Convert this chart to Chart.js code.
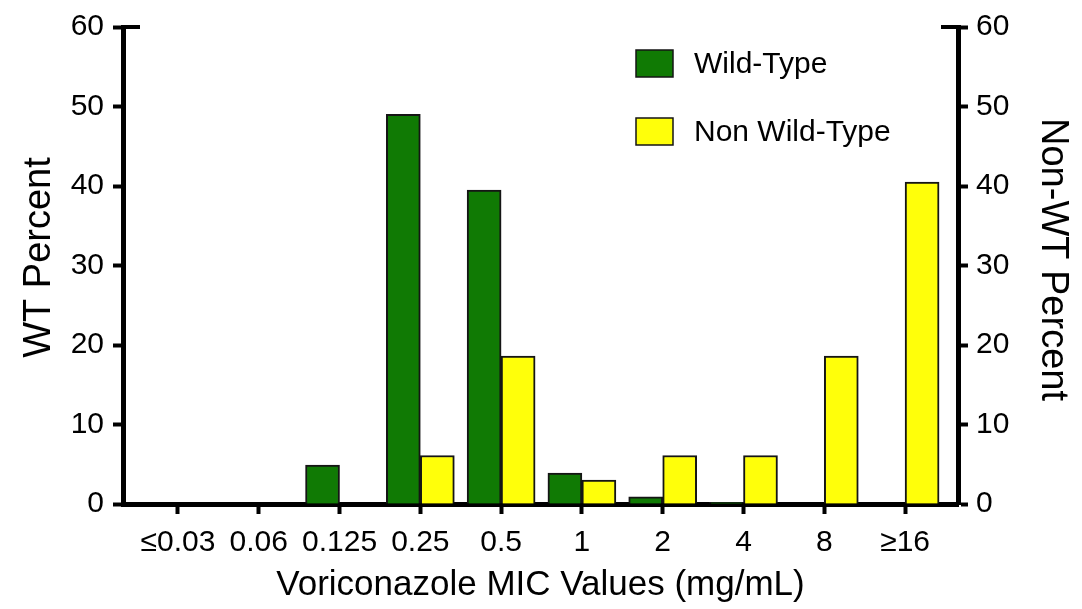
<!DOCTYPE html>
<html>
<head>
<meta charset="utf-8">
<script src="https://cdn.jsdelivr.net/npm/chart.js@4.4.1/dist/chart.umd.min.js"></script>
<style>
  html, body { margin: 0; padding: 0; background: #ffffff; }
  #wrap { width: 1082px; height: 609px; position: relative; }
</style>
</head>
<body>
<div id="wrap"><canvas id="c" width="1082" height="609"></canvas></div>
<script>
// ---- data ----
const categories = ['≤0.03', '0.06', '0.125', '0.25', '0.5', '1', '2', '4', '8', '≥16'];
const wildTypeValues = [0, 0, 4.9, 49.0, 39.5, 3.9, 0.9, 0.2, 0, 0];
const nonWildTypeValues = [0, 0, 0, 6.1, 18.6, 3.0, 6.1, 6.1, 18.6, 40.5];
const yTicks = [0, 10, 20, 30, 40, 50, 60];
const seriesLabels = ['Wild-Type', 'Non Wild-Type'];
const xTitle = 'Voriconazole MIC Values (mg/mL)';
const yLeftTitle = 'WT Percent';
const yRightTitle = 'Non-WT Percent';

const GREEN = '#107A04';
const YELLOW = '#FFFF0A';
const EDGE = '#151515';
const FONT = "'Liberation Sans', Arial, sans-serif";

const legendPlugin = {
  id: 'boxLegend',
  afterDraw(chart) {
    const ctx = chart.ctx;
    ctx.save();
    const items = chart.data.datasets.map(d => ({ label: d.label, color: d.backgroundColor }));
    const bx = 636, bw = 37, bh = 27;
    const ys = [50, 118];
    items.forEach((it, i) => {
      const y = ys[i];
      ctx.fillStyle = it.color;
      ctx.fillRect(bx, y, bw, bh);
      ctx.lineWidth = 1.5;
      ctx.strokeStyle = EDGE;
      ctx.strokeRect(bx, y, bw, bh);
      ctx.fillStyle = '#000';
      ctx.font = '30px ' + FONT;
      ctx.textAlign = 'left';
      ctx.textBaseline = 'middle';
      ctx.fillText(it.label, 694, y + bh / 2 + 1);
    });
    ctx.restore();
  }
};

// short inward cap at the top tick of each value axis, and the two value-axis titles
const axisExtrasPlugin = {
  id: 'axisExtras',
  afterDraw(chart) {
    const ctx = chart.ctx;
    const yl = chart.scales.y, yr = chart.scales.y1;
    const top = yl.getPixelForValue(yTicks[yTicks.length - 1]);
    ctx.save();
    ctx.strokeStyle = '#000';
    ctx.lineWidth = 4;
    ctx.beginPath();
    ctx.moveTo(yl.right, top); ctx.lineTo(yl.right + 17, top);
    ctx.moveTo(yr.left, top); ctx.lineTo(yr.left - 17, top);
    ctx.stroke();

    const midY = (chart.chartArea.top + chart.chartArea.bottom) / 2 - 8;
    ctx.fillStyle = '#000';
    ctx.font = '38px ' + FONT;
    ctx.textAlign = 'center';
    ctx.textBaseline = 'middle';
    ctx.save();
    ctx.translate(40, midY);
    ctx.rotate(-Math.PI / 2);
    ctx.fillText(yLeftTitle, 0, 0);
    ctx.restore();
    ctx.save();
    ctx.translate(1052, midY + 2);
    ctx.rotate(Math.PI / 2);
    ctx.fillText(yRightTitle, 0, 0);
    ctx.restore();
    ctx.restore();
  }
};

const ctx = document.getElementById('c').getContext('2d');
new Chart(ctx, {
  type: 'bar',
  data: {
    datasets: [
      {
        label: seriesLabels[0],
        data: wildTypeValues.map((v, i) => ({ x: i, y: v })),
        backgroundColor: GREEN,
        borderColor: EDGE,
        borderWidth: 2,
        borderSkipped: 'start',
        yAxisID: 'y'
      },
      {
        label: seriesLabels[1],
        data: nonWildTypeValues.map((v, i) => ({ x: i, y: v })),
        backgroundColor: YELLOW,
        borderColor: EDGE,
        borderWidth: 2,
        borderSkipped: 'start',
        yAxisID: 'y1'
      }
    ]
  },
  options: {
    responsive: false,
    animation: false,
    devicePixelRatio: 1,
    barThickness: 34,
    layout: { padding: { top: 21, left: 0, right: 0, bottom: 0 } },
    plugins: {
      legend: { display: false },
      tooltip: { enabled: false }
    },
    scales: {
      x: {
        type: 'linear',
        position: 'bottom',
        offset: false,
        min: -0.68,
        max: 9.655,
        z: 1,
        afterBuildTicks(scale) { scale.ticks = categories.map((c, i) => ({ value: i })); },
        afterFit(scale) { scale.height = 105; },
        ticks: {
          callback: (v) => categories[v],
          font: { family: FONT, size: 30 },
          color: '#000',
          padding: 11,
          maxRotation: 0,
          autoSkip: false
        },
        grid: { drawOnChartArea: false, drawTicks: true, tickLength: 10, tickWidth: 4, tickColor: '#000', offset: false },
        border: { display: true, width: 5, color: '#000' },
        title: {
          display: true,
          text: xTitle,
          font: { family: FONT, size: 35 },
          color: '#000',
          padding: { top: 0, bottom: 3 }
        }
      },
      y: {
        type: 'linear',
        position: 'left',
        min: 0,
        max: 60,
        z: 1,
        afterBuildTicks(scale) { scale.ticks = yTicks.map(v => ({ value: v })); },
        afterFit(scale) { scale.width = 123; },
        ticks: { font: { family: FONT, size: 30 }, color: '#000', padding: 9 },
        grid: { drawOnChartArea: false, drawTicks: true, tickLength: 10, tickWidth: 4, tickColor: '#000' },
        border: { display: true, width: 5, color: '#000' },
        title: { display: false }
      },
      y1: {
        type: 'linear',
        position: 'right',
        min: 0,
        max: 60,
        z: 1,
        afterBuildTicks(scale) { scale.ticks = yTicks.map(v => ({ value: v })); },
        afterFit(scale) { scale.width = 124; },
        ticks: { font: { family: FONT, size: 30 }, color: '#000', padding: 8 },
        grid: { drawOnChartArea: false, drawTicks: true, tickLength: 10, tickWidth: 4, tickColor: '#000' },
        border: { display: true, width: 5, color: '#000' },
        title: { display: false }
      }
    }
  },
  plugins: [legendPlugin, axisExtrasPlugin]
});
</script>
</body>
</html>
